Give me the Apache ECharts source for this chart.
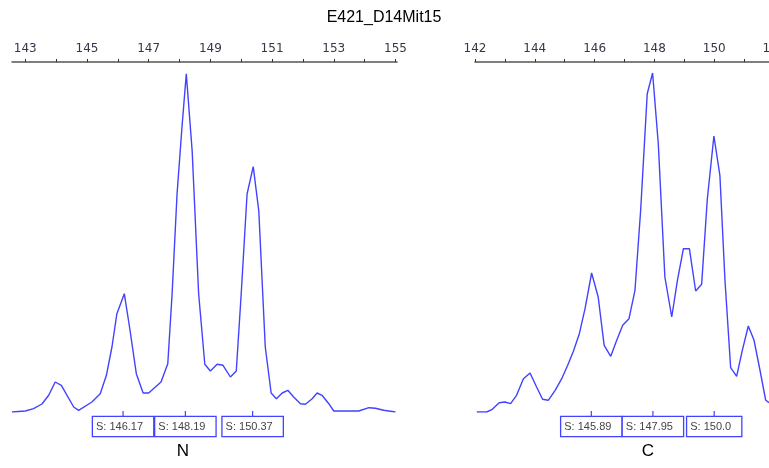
<!DOCTYPE html>
<html>
<head>
<meta charset="utf-8">
<script src="https://cdn.jsdelivr.net/npm/echarts@6/dist/echarts.min.js"></script>
<style>html,body{margin:0;padding:0;background:#fff;}#c{width:769px;height:468px;}</style>
</head>
<body>
<div id="c"></div>
<script>
const chartTitle = 'E421_D14Mit15';
const panelNames = ['N', 'C'];

// Panel N (left)
const xN = [142.57,143.0,143.27,143.54,143.76,143.97,144.17,144.57,144.73,145.16,145.43,145.63,145.81,145.97,146.21,146.38,146.6,146.82,147.0,147.4,147.62,147.76,147.92,148.08,148.22,148.41,148.62,148.82,149.0,149.22,149.41,149.65,149.84,150.0,150.19,150.39,150.57,150.78,150.97,151.14,151.33,151.51,151.7,151.92,152.08,152.3,152.46,152.62,152.84,153.0,153.81,154.14,154.35,154.62,155.0];
const yN = [0,1,3.3,8,16.7,30,26.7,5,1.7,10,18.3,36.7,65,98.3,118.3,85,38.3,19,19,30,48.3,118.3,218,285,338.3,261,118.3,47.7,41,47.7,46.7,35,41,118.3,218,245.3,201,65,19,13.3,19,21.7,15,8.3,7.7,13.3,19,16.7,8.3,1,1,4.3,3.7,1.7,0];
const peaksN = [146.17, 148.19, 150.37];
const peakLabelsN = ['146.17', '148.19', '150.37'];
const ticksN = [143,144,145,146,147,148,149,150,151,152,153,154,155];
const tickLabelsN = [143,145,147,149,151,153,155];

// Panel C (right)
const xC = [142.06,142.39,142.56,142.81,143.0,143.19,143.39,143.62,143.84,144.06,144.26,144.45,144.68,144.9,145.1,145.29,145.49,145.68,145.9,146.12,146.32,146.54,146.74,146.94,147.15,147.35,147.54,147.76,147.94,148.13,148.35,148.58,148.77,148.97,149.17,149.38,149.58,149.77,149.99,150.19,150.36,150.55,150.75,150.94,151.14,151.33,151.53,151.72,151.83];
const yC = [0,0,2.3,9.3,10,8.3,16.7,33.3,39,25,12.7,11.7,21.7,33.3,46.7,60.7,78.3,103.3,139,115,66.7,55.7,71.7,86.7,93.3,121.7,201.7,318.3,339,268.3,135,95,131.7,163.3,163.3,121,127.7,213.3,276,236.7,131.7,44.3,35.7,61.7,86,72,42,12,9.3];
const peaksC = [145.89, 147.95, 150.0];
const peakLabelsC = ['145.89', '147.95', '150.0'];
const ticksC = [142,143,144,145,146,147,148,149,150,151,152];
const tickLabelsC = [142,144,146,148,150,152];

const lineColor = '#4242ff';
const zip = (a, b) => a.map((v, i) => [v, b[i]]);

function xAxisFor(gridIndex, min, max, ticks, labels) {
  return {
    type: 'value', gridIndex, position: 'top', min, max,
    axisLine: { show: true, onZero: false, lineStyle: { color: '#555', width: 1.5 } },
    axisTick: { show: true, inside: false, length: 3, customValues: ticks, lineStyle: { color: '#333', width: 1 } },
    axisLabel: { show: true, customValues: labels, margin: 7, color: '#3a3448', fontSize: 12, fontFamily: 'DejaVu Sans', showMinLabel: true, showMaxLabel: true },
    splitLine: { show: false }
  };
}

function peakSeries(axisIdx, peaks, labels) {
  return {
    type: 'custom', xAxisIndex: axisIdx, yAxisIndex: axisIdx, clip: false, z: 5,
    data: peaks.map((p, i) => [p, 0, labels[i]]),
    renderItem: function (params, api) {
      const pt = api.coord([api.value(0), 0]);
      const idx = params.dataIndex;
      const txt = 'S: ' + labels[idx];
      return {
        type: 'group',
        children: [
          { type: 'line', shape: { x1: pt[0], y1: pt[1] - 1, x2: pt[0], y2: pt[1] + 5 }, style: { stroke: lineColor, lineWidth: 1.2 } },
          { type: 'text', x: pt[0], y: pt[1] + 5,
            style: { text: txt, align: 'center', verticalAlign: 'top', font: '11px "Liberation Sans", Arial, sans-serif', fill: '#444',
              backgroundColor: '#fff', borderColor: lineColor, borderWidth: 1.3, padding: [3, 10, 3, 3], lineHeight: 13 } }
        ]
      };
    }
  };
}

const chart = echarts.init(document.getElementById('c'), null, { renderer: 'canvas' });
chart.setOption({
  backgroundColor: '#fff',
  animation: false,
  grid: [
    { left: 12, right: 372, top: 62, bottom: 56, outerBoundsMode: 'none', containLabel: false },
    { left: 475, right: -8, top: 62, bottom: 56, outerBoundsMode: 'none', containLabel: false }
  ],
  xAxis: [
    xAxisFor(0, 142.57, 155.05, ticksN, tickLabelsN),
    xAxisFor(1, 142, 152.1, ticksC, tickLabelsC)
  ],
  yAxis: [
    { type: 'value', gridIndex: 0, min: 0, max: 350, show: false },
    { type: 'value', gridIndex: 1, min: 0, max: 350, show: false }
  ],
  series: [
    { type: 'line', xAxisIndex: 0, yAxisIndex: 0, data: zip(xN, yN), showSymbol: false, symbol: 'none', lineStyle: { color: lineColor, width: 1.4 } },
    { type: 'line', xAxisIndex: 1, yAxisIndex: 1, data: zip(xC, yC), showSymbol: false, symbol: 'none', lineStyle: { color: lineColor, width: 1.4 } },
    peakSeries(0, peaksN, peakLabelsN),
    peakSeries(1, peaksC, peakLabelsC)
  ],
  graphic: [
    { type: 'text', x: 384, y: 18, style: { text: chartTitle, align: 'center', verticalAlign: 'middle', font: '16px "Liberation Sans", Arial, sans-serif', fill: '#000' } },
    { type: 'text', x: 183, y: 451, style: { text: panelNames[0], align: 'center', verticalAlign: 'middle', font: '17px "Liberation Sans", Arial, sans-serif', fill: '#000' } },
    { type: 'text', x: 648, y: 451, style: { text: panelNames[1], align: 'center', verticalAlign: 'middle', font: '17px "Liberation Sans", Arial, sans-serif', fill: '#000' } }
  ]
});
</script>
</body>
</html>
